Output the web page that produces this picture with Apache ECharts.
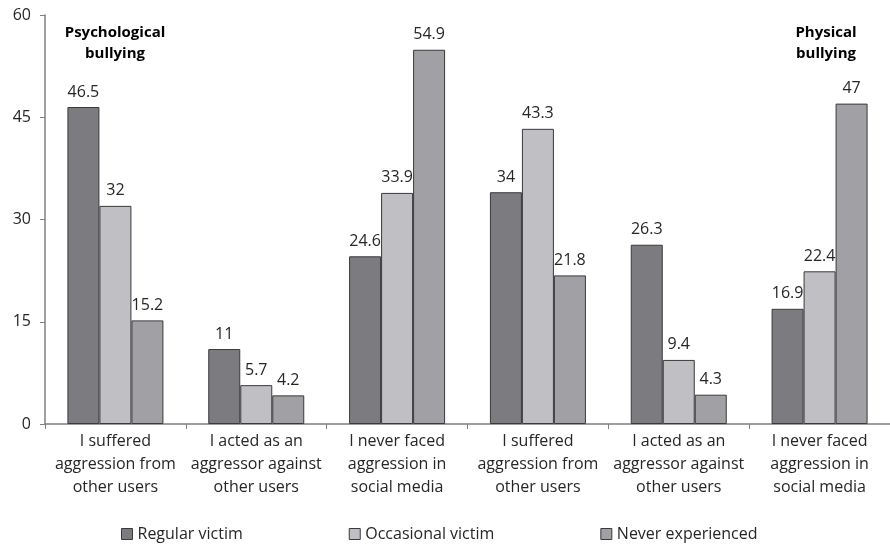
<!DOCTYPE html>
<html>
<head>
<meta charset="utf-8">
<script src="https://cdn.jsdelivr.net/npm/echarts@6/dist/echarts.min.js"></script>
<style>
  html, body { margin: 0; padding: 0; background: #fff; }
  #chart { width: 890px; height: 546px; }
</style>
</head>
<body>
<div id="chart"></div>
<script>
// data
var categories = [
    'I suffered\naggression from\nother users',
    'I acted as an\naggressor against\nother users',
    'I never faced\naggression in\nsocial media',
    'I suffered\naggression from\nother users',
    'I acted as an\naggressor against\nother users',
    'I never faced\naggression in\nsocial media'
];
var regularVictim = [46.5, 11, 24.6, 34, 26.3, 16.9];
var occasionalVictim = [32, 5.7, 33.9, 43.3, 9.4, 22.4];
var neverExperienced = [15.2, 4.2, 54.9, 21.8, 4.3, 47];
var seriesNames = ['Regular victim', 'Occasional victim', 'Never experienced'];

var font = '"Open Sans", sans-serif';
var myChart = echarts.init(document.getElementById('chart'));

function bar(name, data, color) {
    return {
        name: name,
        type: 'bar',
        data: data,
        barWidth: 32,
        barGap: '0%',
        itemStyle: { color: color, borderColor: '#3a3a3a', borderWidth: 1 },
        label: {
            show: true,
            position: 'top',
            distance: 7,
            color: '#262626',
            fontSize: 16,
            fontFamily: font
        }
    };
}

option = {
    animation: false,
    grid: { left: 45, right: -8, top: 15, bottom: 122, containLabel: false },
    legend: {
        data: seriesNames,
        left: 116,
        top: 521,
        itemWidth: 11,
        itemHeight: 11,
        itemGap: 106,
        icon: 'rect',
        textStyle: { color: '#262626', fontSize: 16, fontFamily: font },
        itemStyle: { borderColor: '#3a3a3a', borderWidth: 1 }
    },
    xAxis: [{
        type: 'category',
        data: categories,
        axisLine: { lineStyle: { color: '#7f7f7f', width: 1.5 } },
        axisTick: { show: true, length: 5, lineStyle: { color: '#7f7f7f' } },
        axisLabel: {
            color: '#262626',
            fontSize: 16,
            fontFamily: font,
            lineHeight: 23,
            margin: 6,
            interval: 0
        }
    }],
    yAxis: [{
        type: 'value',
        min: 0,
        max: 60,
        interval: 15,
        axisLine: { show: true, lineStyle: { color: '#7f7f7f', width: 1.5 } },
        axisTick: { show: true, length: 5, lineStyle: { color: '#7f7f7f' } },
        splitLine: { show: false },
        axisLabel: { color: '#262626', fontSize: 16, fontFamily: font, margin: 14 }
    }],
    graphic: [
        {
            type: 'text', x: 115, y: 22,
            style: {
                text: 'Psychological\nbullying', align: 'center', verticalAlign: 'top',
                fontSize: 15, fontWeight: 'bold', fontFamily: font, fill: '#000', lineHeight: 21
            }
        },
        {
            type: 'text', x: 826, y: 22,
            style: {
                text: 'Physical\nbullying', align: 'center', verticalAlign: 'top',
                fontSize: 15, fontWeight: 'bold', fontFamily: font, fill: '#000', lineHeight: 21
            }
        }
    ],
    series: [
        bar(seriesNames[0], regularVictim, '#7b7b80'),
        bar(seriesNames[1], occasionalVictim, '#bfbfc4'),
        bar(seriesNames[2], neverExperienced, '#a0a0a5')
    ]
};

myChart.setOption(option, true);
</script>
</body>
</html>
